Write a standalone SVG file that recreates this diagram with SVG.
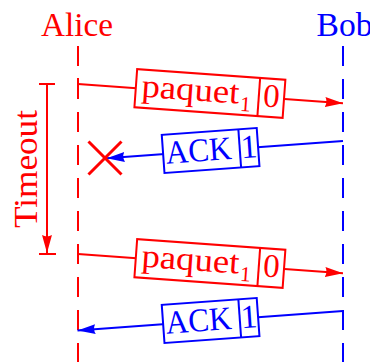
<svg xmlns="http://www.w3.org/2000/svg" width="370" height="362" viewBox="0 0 370 362">
<style>
.t{font-family:"Liberation Serif","Times New Roman",serif;font-size:33px}
.s{font-size:21px}
.r{fill:#ff0000}
.b{fill:#0000ff}
.ls{stroke-width:2;fill:none}
.sr{stroke:#ff0000}
.sb{stroke:#0000ff}
.life{stroke-width:2;stroke-dasharray:20 13;fill:none}
.boxR{fill:#fff;stroke:#ff0000;stroke-width:2}
.boxB{fill:#fff;stroke:#0000ff;stroke-width:2}
</style>
<defs>
<marker id="ahR" markerUnits="userSpaceOnUse" markerWidth="19" markerHeight="12" refX="17" refY="5" orient="auto" viewBox="0 0 18 10"><path d="M0,0.3 L17,5 L0,9.7 Q2.5,5 0,0.3Z" fill="#ff0000"/></marker>
<marker id="ahB" markerUnits="userSpaceOnUse" markerWidth="19" markerHeight="12" refX="17" refY="5" orient="auto" viewBox="0 0 18 10"><path d="M0,0.3 L17,5 L0,9.7 Q2.5,5 0,0.3Z" fill="#0000ff"/></marker>
</defs>

<g id="alice">
<text class="t r" x="77" y="36" text-anchor="middle" textLength="72" lengthAdjust="spacingAndGlyphs">Alice</text>
<line class="life sr" x1="78" y1="46" x2="78" y2="362"/>
</g>
<g id="bob">
<text class="t b" x="316.5" y="36" textLength="56" lengthAdjust="spacingAndGlyphs">Bob</text>
<line class="life sb" x1="343" y1="46" x2="343" y2="362"/>
</g>

<g id="timeout">
<line class="ls sr" x1="39" y1="84" x2="55" y2="84"/>
<line class="ls sr" x1="47" y1="84" x2="47" y2="253" marker-end="url(#ahR)"/>
<line class="ls sr" x1="39" y1="254" x2="56" y2="254"/>
<text class="t r" transform="translate(37,169) rotate(-90)" x="0" y="0" text-anchor="middle" textLength="118" lengthAdjust="spacingAndGlyphs">Timeout</text>
</g>

<g id="connectors">
<line class="ls sr" x1="78" y1="78" x2="78" y2="90"/>
<line class="ls sr" x1="78" y1="84" x2="343" y2="103.3" marker-end="url(#ahR)"/>
<line class="ls sb" x1="343" y1="141" x2="106.7" y2="158.3" marker-end="url(#ahB)"/>
<line class="ls sr" x1="78" y1="248" x2="78" y2="260"/>
<line class="ls sr" x1="78" y1="254" x2="343" y2="273.3" marker-end="url(#ahR)"/>
<line class="ls sb" x1="343" y1="311" x2="77.5" y2="330.4" marker-end="url(#ahB)"/>
</g>

<g id="lost">
<line stroke="#ff0000" stroke-width="3" x1="88.5" y1="141.5" x2="121.5" y2="174.5"/>
<line stroke="#ff0000" stroke-width="3" x1="88.5" y1="174.5" x2="121.5" y2="141.5"/>
</g>

<g id="msg1" transform="translate(209.9,93.5) rotate(4.1)">
<rect class="boxR" x="-74.3" y="-19.15" width="148.6" height="38.3"/>
<line class="ls sr" x1="49" y1="-19.15" x2="49" y2="19.15"/>
<text class="t r" x="-68.5" y="8" textLength="98" lengthAdjust="spacingAndGlyphs">paquet</text>
<text class="t r s" x="31" y="15">1</text>
<text class="t r" x="61.7" y="9" text-anchor="middle">0</text>
</g>

<g id="ack1" transform="translate(210.6,150.5) rotate(-4.1)">
<rect class="boxB" x="-47.6" y="-19.15" width="95.2" height="38.3"/>
<line class="ls sb" x1="29.2" y1="-19.15" x2="29.2" y2="19.15"/>
<text class="t b" x="-45" y="10" textLength="66" lengthAdjust="spacingAndGlyphs">ACK</text>
<text class="t b" x="38.4" y="10" text-anchor="middle">1</text>
</g>

<g id="msg2" transform="translate(209.9,263.5) rotate(4.1)">
<rect class="boxR" x="-74.3" y="-19.15" width="148.6" height="38.3"/>
<line class="ls sr" x1="49" y1="-19.15" x2="49" y2="19.15"/>
<text class="t r" x="-68.5" y="8" textLength="98" lengthAdjust="spacingAndGlyphs">paquet</text>
<text class="t r s" x="31" y="15">1</text>
<text class="t r" x="61.7" y="9" text-anchor="middle">0</text>
</g>

<g id="ack2" transform="translate(210.6,320.5) rotate(-4.1)">
<rect class="boxB" x="-47.6" y="-19.15" width="95.2" height="38.3"/>
<line class="ls sb" x1="29.2" y1="-19.15" x2="29.2" y2="19.15"/>
<text class="t b" x="-45" y="10" textLength="66" lengthAdjust="spacingAndGlyphs">ACK</text>
<text class="t b" x="38.4" y="10" text-anchor="middle">1</text>
</g>
</svg>
